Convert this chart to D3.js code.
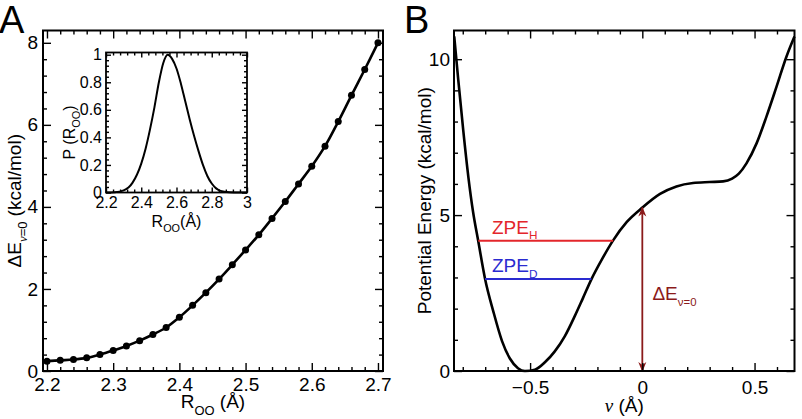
<!DOCTYPE html>
<html>
<head>
<meta charset="utf-8">
<script src="https://cdn.jsdelivr.net/npm/d3@7"></script>
<style>
  body { margin: 0; background: #fff; }
  svg { display: block; }
</style>
</head>
<body>
<div id="chart"></div>
<script>
// ---- data ----
// Panel A: barrier height vs O-O distance
const rooValues = [2.20, 2.22, 2.24, 2.26, 2.28, 2.30, 2.32, 2.34, 2.36, 2.38, 2.40, 2.42, 2.44,
                   2.46, 2.48, 2.50, 2.52, 2.54, 2.56, 2.58, 2.60, 2.62, 2.64, 2.66, 2.68, 2.70];
const barrierValues = [0.24, 0.26, 0.28, 0.32, 0.40, 0.50, 0.61, 0.74, 0.89, 1.06, 1.31, 1.60, 1.91,
                       2.24, 2.59, 2.95, 3.32, 3.72, 4.13, 4.56, 4.99, 5.48, 6.08, 6.72, 7.35, 8.00];

// Inset: distribution of R_OO
const insetR = [2.20, 2.25, 2.30, 2.35, 2.40, 2.425, 2.45, 2.475, 2.50, 2.525, 2.55, 2.575, 2.60,
                2.625, 2.65, 2.675, 2.70, 2.725, 2.75, 2.775, 2.80, 2.825, 2.85, 2.90, 2.95, 3.00];
const insetP = [0, 0.002, 0.015, 0.07, 0.21, 0.32, 0.46, 0.62, 0.80, 0.94, 1.00, 0.97, 0.90,
                0.79, 0.66, 0.53, 0.41, 0.30, 0.20, 0.12, 0.065, 0.03, 0.012, 0.002, 0, 0];

// Panel B: potential energy along nu
const nuValues = [-0.838, -0.820, -0.798, -0.775, -0.754, -0.731, -0.701, -0.663, -0.625, -0.590, -0.554,
                  -0.523, -0.479, -0.434, -0.390, -0.345, -0.301, -0.265, -0.227, -0.180, -0.130, -0.069,
                  0, 0.079, 0.152, 0.226, 0.30, 0.36, 0.40, 0.43, 0.464, 0.509, 0.553, 0.598, 0.642, 0.678];
const energyValues = [10.73, 9.34, 7.73, 6.22, 5.10, 4.17, 2.97, 1.89, 0.96, 0.40, 0.09,
                      0, 0.04, 0.28, 0.63, 1.12, 1.76, 2.33, 2.94, 3.58, 4.19, 4.78,
                      5.24, 5.68, 5.92, 6.03, 6.06, 6.08, 6.17, 6.33, 6.66, 7.30, 8.16, 9.12, 10.08, 10.73];

const zpeLevels = [
  { name: "H", energy: 4.18, from: -0.731, to: -0.130, color: "#e3262b" },
  { name: "D", energy: 2.95, from: -0.701, to: -0.227, color: "#2a2bd0" }
];
const barrierArrow = { nu: 0, from: 0, to: 5.24 };

// tick labels
const aXTicks = [2.2, 2.3, 2.4, 2.5, 2.6, 2.7];
const aYTicks = [0, 2, 4, 6, 8];
const insetXTicks = [2.2, 2.4, 2.6, 2.8, 3];
const insetYTicks = [0, 0.2, 0.4, 0.6, 0.8, 1];
const bXTicks = [-0.5, 0, 0.5];
const bYTicks = [0, 5, 10];

// ---- drawing ----
const FONT = "'Liberation Sans', Arial, Helvetica, sans-serif";
const SERIF = "'Liberation Serif', 'Times New Roman', serif";
const fmt = d => String(+d.toFixed(3)).replace("-", "\u2212");
const steps = (a, b, s) => d3.range(Math.round((b - a) / s) + 1).map(i => +(a + i * s).toFixed(4));

const svg = d3.select("#chart").append("svg")
  .attr("width", 802).attr("height", 419)
  .attr("font-family", FONT);

function tickSet(g, axisFn, scale, transform, values, size, format, pad, fs) {
  const ax = axisFn(scale).tickValues(values).tickSize(-size).tickSizeOuter(0)
    .tickPadding(pad).tickFormat(format || "");
  const s = g.append("g").attr("transform", transform).call(ax)
    .attr("font-family", FONT).attr("font-size", fs);
  s.select(".domain").remove();
  s.selectAll("line").attr("stroke", "#000").attr("stroke-width", 1.4);
  s.selectAll("text").attr("fill", "#000");
  return s;
}

// frame with inward ticks on all four sides, labels on bottom and left
function frame(g, x, y, w, h, o) {
  const xMinor = o.xMinor.filter(v => !o.xTicks.some(t => Math.abs(t - v) < 1e-6));
  const yMinor = o.yMinor.filter(v => !o.yTicks.some(t => Math.abs(t - v) < 1e-6));
  tickSet(g, d3.axisBottom, x, `translate(0,${h})`, xMinor, o.minor, null, 0, o.fs);
  tickSet(g, d3.axisTop, x, "translate(0,0)", xMinor, o.minor, null, 0, o.fs);
  tickSet(g, d3.axisLeft, y, "translate(0,0)", yMinor, o.minor, null, 0, o.fs);
  tickSet(g, d3.axisRight, y, `translate(${w},0)`, yMinor, o.minor, null, 0, o.fs);
  tickSet(g, d3.axisBottom, x, `translate(0,${h})`, o.xTicks, o.major, fmt, o.xPad, o.fs);
  tickSet(g, d3.axisTop, x, "translate(0,0)", o.xTicks, o.major, null, 0, o.fs);
  tickSet(g, d3.axisLeft, y, "translate(0,0)", o.yTicks, o.major, fmt, o.yPad, o.fs);
  tickSet(g, d3.axisRight, y, `translate(${w},0)`, o.yTicks, o.major, null, 0, o.fs);
  g.append("rect").attr("width", w).attr("height", h)
    .attr("fill", "none").attr("stroke", "#000").attr("stroke-width", o.frameW);
}

// text made of pieces: {t, sub, italic}
function richText(g, x, y, parts, fs, opts = {}) {
  const t = g.append("text").attr("x", x).attr("y", y).attr("font-size", fs)
    .attr("fill", opts.color || "#000").attr("text-anchor", opts.anchor || "start");
  if (opts.rotate) t.attr("transform", `rotate(-90,${x},${y})`);
  let shifted = 0;
  parts.forEach(p => {
    const sp = t.append("tspan").text(p.t);
    const want = p.sub ? fs * (opts.subShift || 0.3) : 0;
    if (want !== shifted) { sp.attr("dy", want - shifted); shifted = want; }
    if (p.sub) sp.attr("font-size", fs * (p.subScale || 0.68));
    if (p.italic) sp.attr("font-family", SERIF).attr("font-style", "italic");
  });
  return t;
}

// ---------- Panel A ----------
const A = { left: 43, top: 30.5, w: 340, h: 340.5 };
const gA = svg.append("g").attr("transform", `translate(${A.left},${A.top})`);
const xA = d3.scaleLinear().domain([2.194, 2.7076]).range([0, A.w]);
const yA = d3.scaleLinear().domain([0, 8.3]).range([A.h, 0]);

const barrier = rooValues.map((r, i) => ({ r, e: barrierValues[i] }));
gA.append("path").datum(barrier)
  .attr("fill", "none").attr("stroke", "#000").attr("stroke-width", 2.6)
  .attr("d", d3.line().x(d => xA(d.r)).y(d => yA(d.e)).curve(d3.curveCatmullRom));
gA.selectAll(".dot").data(barrier).enter().append("circle")
  .attr("class", "dot")
  .attr("cx", d => xA(d.r)).attr("cy", d => yA(d.e)).attr("r", 3.5).attr("fill", "#000");

frame(gA, xA, yA, A.w, A.h, {
  xTicks: aXTicks, yTicks: aYTicks,
  xMinor: steps(2.2, 2.7, 0.02), yMinor: steps(0, 8, 0.4),
  major: 8, minor: 4, fs: 19, xPad: 7, yPad: 5, frameW: 2
});

richText(svg, A.left + A.w / 2, 408, [{ t: "R" }, { t: "OO", sub: true }, { t: " (Å)" }], 19,
  { anchor: "middle", subShift: 0.35 });
richText(svg, 21, A.top + A.h / 2, [{ t: "ΔE" }, { t: "ν", sub: true, italic: true }, { t: "=0", sub: true },
  { t: " (kcal/mol)" }], 19, { anchor: "middle", rotate: true });

// inset
const I = { left: 106, top: 52.5, w: 141, h: 140 };
const gI = svg.append("g").attr("transform", `translate(${I.left},${I.top})`);
const xI = d3.scaleLinear().domain([2.2, 3]).range([0, I.w]);
const yI = d3.scaleLinear().domain([0, 1.016]).range([I.h, 0]);
gI.append("rect").attr("width", I.w).attr("height", I.h).attr("fill", "#fff");
const dist = insetR.map((r, i) => ({ r, p: insetP[i] }));
gI.append("path").datum(dist)
  .attr("fill", "none").attr("stroke", "#000").attr("stroke-width", 2)
  .attr("d", d3.line().x(d => xI(d.r)).y(d => yI(d.p)).curve(d3.curveMonotoneX));
frame(gI, xI, yI, I.w, I.h, {
  xTicks: insetXTicks, yTicks: insetYTicks,
  xMinor: steps(2.2, 3, 0.04), yMinor: steps(0, 1, 0.04),
  major: 5, minor: 3, fs: 16, xPad: 4, yPad: 4, frameW: 1.8
});
richText(svg, I.left + I.w / 2, 227, [{ t: "R" }, { t: "OO", sub: true }, { t: "(Å)" }], 16, { anchor: "middle" });
richText(svg, 75, I.top + I.h / 2 + 10, [{ t: "P (R" }, { t: "OO", sub: true }, { t: ")" }], 16,
  { anchor: "middle", rotate: true });

svg.append("text").attr("x", -1).attr("y", 33).attr("font-size", 38).text("A");

// ---------- Panel B ----------
const B = { left: 454, top: 30.5, w: 340.5, h: 340.5 };
const gB = svg.append("g").attr("transform", `translate(${B.left},${B.top})`);
const xB = d3.scaleLinear().domain([-0.839, 0.678]).range([0, B.w]);
const yB = d3.scaleLinear().domain([0, 10.92]).range([B.h, 0]);

const pes = nuValues.map((n, i) => ({ n, e: energyValues[i] }));
gB.append("path").datum(pes)
  .attr("fill", "none").attr("stroke", "#000").attr("stroke-width", 2.6)
  .attr("d", d3.line().x(d => xB(d.n)).y(d => yB(d.e)).curve(d3.curveMonotoneX));

gB.selectAll(".zpe").data(zpeLevels).enter().append("line")
  .attr("class", "zpe")
  .attr("x1", d => xB(d.from)).attr("x2", d => xB(d.to))
  .attr("y1", d => yB(d.energy)).attr("y2", d => yB(d.energy))
  .attr("stroke", d => d.color).attr("stroke-width", 2);

zpeLevels.forEach(d => {
  richText(gB, xB(-0.67), yB(d.energy) - 7, [{ t: "ZPE" }, { t: d.name, sub: true, subScale: 0.62 }], 19,
    { color: d.color });
});

const arrowColor = "#8b1a1a";
const defs = svg.append("defs");
defs.append("marker").attr("id", "arr").attr("viewBox", "0 0 10 10")
  .attr("refX", 9).attr("refY", 5).attr("markerWidth", 10).attr("markerHeight", 10)
  .attr("markerUnits", "userSpaceOnUse").attr("orient", "auto-start-reverse")
  .append("path").attr("d", "M0,1 L10,5 L0,9 L3,5 Z").attr("fill", arrowColor);
gB.append("line")
  .attr("x1", xB(barrierArrow.nu)).attr("x2", xB(barrierArrow.nu))
  .attr("y1", yB(barrierArrow.from)).attr("y2", yB(barrierArrow.to))
  .attr("stroke", arrowColor).attr("stroke-width", 1.8)
  .attr("marker-start", "url(#arr)").attr("marker-end", "url(#arr)");
richText(gB, xB(0.045), yB(2.27), [{ t: "ΔE" }, { t: "ν=0", sub: true, subScale: 0.6 }], 19, { color: arrowColor });

frame(gB, xB, yB, B.w, B.h, {
  xTicks: bXTicks, yTicks: bYTicks,
  xMinor: steps(-0.8, 0.6, 0.1), yMinor: steps(0, 10, 1),
  major: 8, minor: 4, fs: 19, xPad: 10, yPad: 4, frameW: 2
});

richText(svg, B.left + B.w / 2, 412, [{ t: "ν", italic: true }, { t: " (Å)" }], 19, { anchor: "middle" });
richText(svg, 431, B.top + B.h / 2, [{ t: "Potential Energy (kcal/mol)" }], 19, { anchor: "middle", rotate: true });

svg.append("text").attr("x", 404).attr("y", 33).attr("font-size", 38).text("B");
</script>
</body>
</html>
